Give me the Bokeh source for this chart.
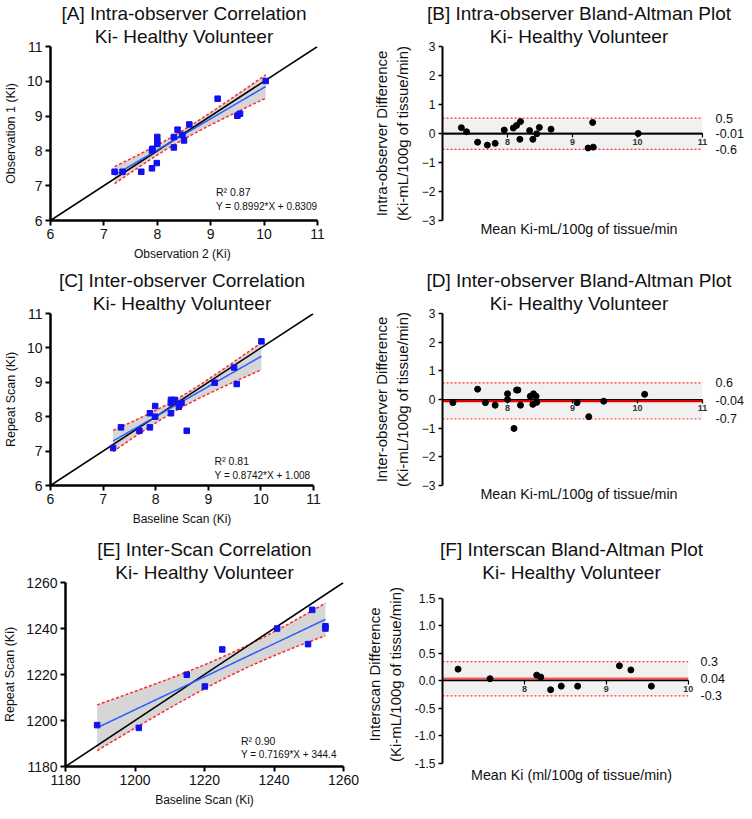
import numpy as np
from bokeh.plotting import figure
from bokeh.models import (Range1d, FixedTicker, LinearAxis, Title, Label,
                          BoxAnnotation, PrintfTickFormatter)
from bokeh.layouts import row, column
from bokeh.embed import file_html
from bokeh.resources import INLINE

FONT = "Liberation Sans"

# ---------------- data ----------------
# [A] intra-observer correlation
A_obs2 = [7.20, 7.35, 7.70, 7.90, 7.99, 7.90, 7.91, 8.00, 8.00, 8.00,
          8.31, 8.31, 8.38, 8.47, 8.50, 8.60, 9.13, 9.50, 9.55, 10.03]
A_obs1 = [7.40, 7.40, 7.40, 7.50, 7.65, 8.01, 8.06, 8.40, 8.27, 8.20,
          8.10, 8.40, 8.61, 8.46, 8.30, 8.76, 9.50, 9.01, 9.07, 10.01]
A_fit = (0.8992, 0.8309)
A_r2 = "0.87"

# [B] intra-observer Bland-Altman
B_mean = [7.29, 7.37, 7.54, 7.69, 7.81, 7.95, 8.09, 8.14, 8.20, 8.19,
          8.34, 8.39, 8.45, 8.49, 8.67, 9.31, 9.24, 9.32, 10.01]
B_diff = [0.20, 0.06, -0.30, -0.40, -0.34, 0.12, 0.19, 0.28, 0.41, -0.20,
          0.10, -0.20, -0.01, 0.21, 0.15, 0.38, -0.50, -0.47, 0.00]
B_limits = [0.53, -0.01, -0.55]
B_limit_labels = ["0.5", "-0.01", "-0.6"]

# [C] inter-observer correlation
C_base = [7.19, 7.34, 7.69, 7.89, 7.89, 7.99, 7.99, 8.29, 8.29, 8.29,
          8.36, 8.44, 8.49, 8.59, 9.12, 9.49, 9.54, 10.01]
C_rep = [7.09, 7.69, 7.59, 7.69, 8.10, 8.31, 8.00, 8.10, 8.40, 8.49,
         8.49, 8.29, 8.40, 7.59, 8.99, 9.43, 8.95, 10.19]
C_fit = (0.8742, 1.008)
C_r2 = "0.81"

# [D] inter-observer Bland-Altman
D_mean = [7.16, 7.54, 7.66, 7.81, 8.00, 8.00, 8.10, 8.14, 8.16, 8.20,
          8.35, 8.39, 8.40, 8.44, 8.45, 9.07, 9.25, 9.48, 10.11]
D_diff = [-0.11, 0.36, -0.11, -0.20, 0.20, 0.00, -1.01, 0.33, 0.33, -0.20,
          0.11, -0.17, 0.20, 0.11, -0.10, -0.11, -0.60, -0.06, 0.18]
D_limits = [0.58, -0.04, -0.68]
D_limit_labels = ["0.6", "-0.04", "-0.7"]

# [E] inter-scan correlation
E_base = [1189.1, 1201.1, 1214.9, 1220.1, 1225.1, 1240.9, 1249.8, 1251.0,
          1254.8, 1254.8]
E_rep = [1198.0, 1196.8, 1219.9, 1214.8, 1230.9, 1240.0, 1233.2, 1248.1,
         1241.0, 1240.0]
E_fit = (0.7169, 344.4)
E_r2 = "0.90"

# [F] inter-scan Bland-Altman
F_mean = [7.19, 7.58, 8.15, 8.20, 8.32, 8.45, 8.65, 9.16, 9.30, 9.55]
F_diff = [0.215, 0.04, 0.106, 0.07, -0.16, -0.094, -0.094, 0.276, 0.20, -0.094]
F_limits = [0.35, 0.04, -0.27]
F_limit_labels = ["0.3", "0.04", "-0.3"]

T95 = {8: 2.306, 16: 2.120, 18: 2.101}


def style_axis(ax, tick_size, label_size, line_w=2.5):
    ax.axis_line_width = line_w
    ax.axis_line_color = "black"
    ax.major_tick_line_width = 2
    ax.major_tick_line_color = "black"
    ax.major_tick_out = 5
    ax.major_tick_in = 0
    ax.minor_tick_line_color = None
    ax.major_label_text_font = FONT
    ax.major_label_text_font_size = tick_size
    ax.major_label_text_color = "#111111"
    ax.major_label_standoff = 3
    ax.axis_label_text_font = FONT
    ax.axis_label_text_font_size = label_size
    ax.axis_label_text_font_style = "normal"
    ax.axis_label_text_color = "#111111"


def add_titles(p, l1, l2):
    for txt in (l2, l1):
        p.add_layout(Title(text=txt, align="center", text_font=FONT,
                           text_font_size="19px", text_font_style="normal",
                           text_line_height=0.95,
                           text_color="#111111", standoff=0), "above")


def base_fig(xr, yr, fw, fh, bl, br, bt, bb):
    p = figure(frame_width=fw, frame_height=fh,
               x_range=Range1d(*xr), y_range=Range1d(*yr),
               output_backend="svg", toolbar_location=None,
               min_border_left=bl, min_border_right=br,
               min_border_top=bt, min_border_bottom=bb)
    p.grid.visible = False
    p.outline_line_color = None
    p.background_fill_color = "white"
    return p


def corr_panel(x, y, fit, r2, lims, ticks, t1, xlabel, ylabel, txtpos,
               fw, fh, bl, br, bt, bb):
    p = base_fig(lims, lims, fw, fh, bl, br, bt, bb)
    add_titles(p, t1, "Ki- Healthy Volunteer")
    x = np.array(x); y = np.array(y)
    slope, icpt = fit
    n = len(x)
    xs = np.linspace(x.min(), x.max(), 80)
    fitline = slope * xs + icpt
    s = np.sqrt(np.sum((y - (slope * x + icpt)) ** 2) / (n - 2))
    sxx = np.sum((x - x.mean()) ** 2)
    half = T95[n - 2] * s * np.sqrt(1.0 / n + (xs - x.mean()) ** 2 / sxx)
    p.varea(x=xs, y1=fitline - half, y2=fitline + half, fill_color="#d6d6d6")
    p.line(xs, fitline + half, line_color="#ff2a2a", line_width=1.5, line_dash="3 2")
    p.line(xs, fitline - half, line_color="#ff2a2a", line_width=1.5, line_dash="3 2")
    p.line(list(lims), list(lims), line_color="black", line_width=1.6)
    p.line(xs, fitline, line_color="#2f5cff", line_width=1.5)
    p.scatter(x, y, marker="square", size=5.5, color="#1010f0")
    p.xaxis.ticker = FixedTicker(ticks=ticks)
    p.yaxis.ticker = FixedTicker(ticks=ticks)
    p.xaxis.axis_label = xlabel
    p.yaxis.axis_label = ylabel
    style_axis(p.xaxis[0], "14px", "12px")
    style_axis(p.yaxis[0], "14px", "12.5px")
    p.xaxis.axis_label_standoff = 5
    p.yaxis.axis_label_standoff = 6
    (tx, ty1, ty2) = txtpos
    p.add_layout(Label(x=tx, y=ty1, text="R\u00b2 " + r2, text_font=FONT,
                       text_font_size="10.5px", text_baseline="middle",
                       text_color="#111111"))
    p.add_layout(Label(x=tx, y=ty2, text="Y = %.4f*X + %g" % (slope, icpt),
                       text_font=FONT, text_font_size="10px",
                       text_baseline="middle", text_color="#111111"))
    return p


def ba_panel(mx, dy, limits, limit_labels, xr, xview, yr, yview, xticks, yticks,
             t1, ylabel1, xlabel, mean_color, mean_w, zero_w, fw, fh, bl, br,
             bt, bb, yfmt=None):
    # xr/yr: visible frame range; xview/yview: extent of the drawn axes
    p = base_fig(xr, yr, fw, fh, bl, br, bt, bb)
    add_titles(p, t1, "Ki- Healthy Volunteer")
    upper, mean, lower = limits
    p.add_layout(BoxAnnotation(left=xview[0], right=xview[1], bottom=lower,
                               top=upper, fill_color="#f1f1f1", fill_alpha=1.0,
                               line_color=None, level="underlay"))
    for v in (upper, lower):
        p.line(list(xview), [v, v], line_color="#ff3030", line_width=1.2,
               line_dash="2 2")
    p.line(list(xview), [mean, mean], line_color=mean_color, line_width=mean_w)
    p.scatter(mx, dy, marker="circle", size=6, color="black")
    # bottom axis only carries the title
    p.xaxis.ticker = FixedTicker(ticks=[])
    p.xaxis.axis_line_color = None
    p.xaxis.major_tick_out = 0
    p.xaxis.axis_label = xlabel
    p.xaxis.axis_label_standoff = 0
    p.xaxis.axis_label_text_font = FONT
    p.xaxis.axis_label_text_font_size = "14.3px"
    p.xaxis.axis_label_text_font_style = "normal"
    p.xaxis.axis_label_text_color = "#111111"
    # axis drawn at y = 0
    zax = LinearAxis(fixed_location=0, ticker=FixedTicker(ticks=xticks),
                     bounds=tuple(xview))
    style_axis(zax, "9px", "9px", line_w=zero_w)
    zax.major_tick_out = 4
    zax.major_tick_line_width = 1.2
    zax.major_label_standoff = 1
    zax.major_label_text_font_style = "bold"
    zax.major_label_text_color = "#333333"
    p.add_layout(zax, "below")
    # left axis
    p.yaxis.ticker = FixedTicker(ticks=yticks)
    if yfmt:
        p.yaxis.formatter = PrintfTickFormatter(format=yfmt)
    p.yaxis.bounds = tuple(yview)
    p.yaxis.axis_label = ylabel1
    style_axis(p.yaxis[0], "12px", "15px", line_w=2)
    p.yaxis.major_tick_out = 4
    p.yaxis.major_tick_line_width = 1.5
    p.yaxis.axis_label_standoff = 8
    # right labels for limits
    rax = LinearAxis(ticker=FixedTicker(ticks=list(limits)))
    rax.major_label_overrides = {float(v): s for v, s in zip(limits, limit_labels)}
    rax.axis_line_color = None
    rax.major_tick_line_color = None
    rax.minor_tick_line_color = None
    rax.major_tick_out = 0
    rax.major_label_standoff = 0
    rax.major_label_text_font = FONT
    rax.major_label_text_font_size = "12.5px"
    rax.major_label_text_color = "#111111"
    p.add_layout(rax, "right")
    return p


pA = corr_panel(A_obs2, A_obs1, A_fit, A_r2, (6, 11), [6, 7, 8, 9, 10, 11],
                "[A] Intra-observer Correlation", "Observation 2  (Ki)",
                "Observation 1 (Ki)", (9.10, 6.81, 6.39),
                267, 174, 40, 45, 46, 43)
pB = ba_panel(B_mean, B_diff, B_limits, B_limit_labels, (7, 11.2), (7, 11),
              (-3, 3), (-3, 3), [8, 9, 10, 11], [-3, -2, -1, 0, 1, 2, 3],
              "[B] Intra-observer Bland-Altman Plot",
              "Intra-observer Difference\n(Ki-mL/100g of tissue/min)",
              "Mean Ki-mL/100g of tissue/min", "#333333", 2.0, 1.6,
              273, 174, 80, 30, 46, 43)
pC = corr_panel(C_base, C_rep, C_fit, C_r2, (6, 11), [6, 7, 8, 9, 10, 11],
                "[C] Inter-observer Correlation", "Baseline Scan (Ki)",
                "Repeat Scan (Ki)", (9.12, 6.71, 6.30),
                263, 172, 40, 49, 50, 45)
pD = ba_panel(D_mean, D_diff, D_limits, D_limit_labels, (7, 11.2), (7, 11),
              (-3, 3), (-3, 3), [8, 9, 10, 11], [-3, -2, -1, 0, 1, 2, 3],
              "[D] Inter-observer Bland-Altman Plot",
              "Inter-observer Difference\n(Ki-mL/100g of tissue/min)",
              "Mean Ki-mL/100g of tissue/min", "#e00000", 3.0, 1.0,
              273, 172, 80, 30, 50, 45)
pE = corr_panel(E_base, E_rep, E_fit, E_r2, (1180, 1260),
                [1180, 1200, 1220, 1240, 1260],
                "[E] Inter-Scan Correlation", "Baseline Scan (Ki)",
                "Repeat Scan (Ki)", (1230.5, 1190.9, 1185.1),
                278, 184, 58, 20, 52, 43)
pF = ba_panel(F_mean, F_diff, F_limits, F_limit_labels, (7, 10.15), (7, 10),
              (-1.555, 1.79), (-1.5, 1.5), [8, 9, 10],
              [-1.5, -1.0, -0.5, 0.0, 0.5, 1.0, 1.5],
              "[F] Interscan Bland-Altman Plot",
              "Interscan Difference\n(Ki-mL/100g of tissue/min)",
              "Mean Ki (ml/100g of tissue/min)", "#f06060", 2.6, 1.4,
              258, 184, 79, 35, 52, 43, yfmt="%.1f")

layout = column(row(pA, pB), row(pC, pD), row(pE, pF))
open("out.html", "w").write(file_html(layout, INLINE))
